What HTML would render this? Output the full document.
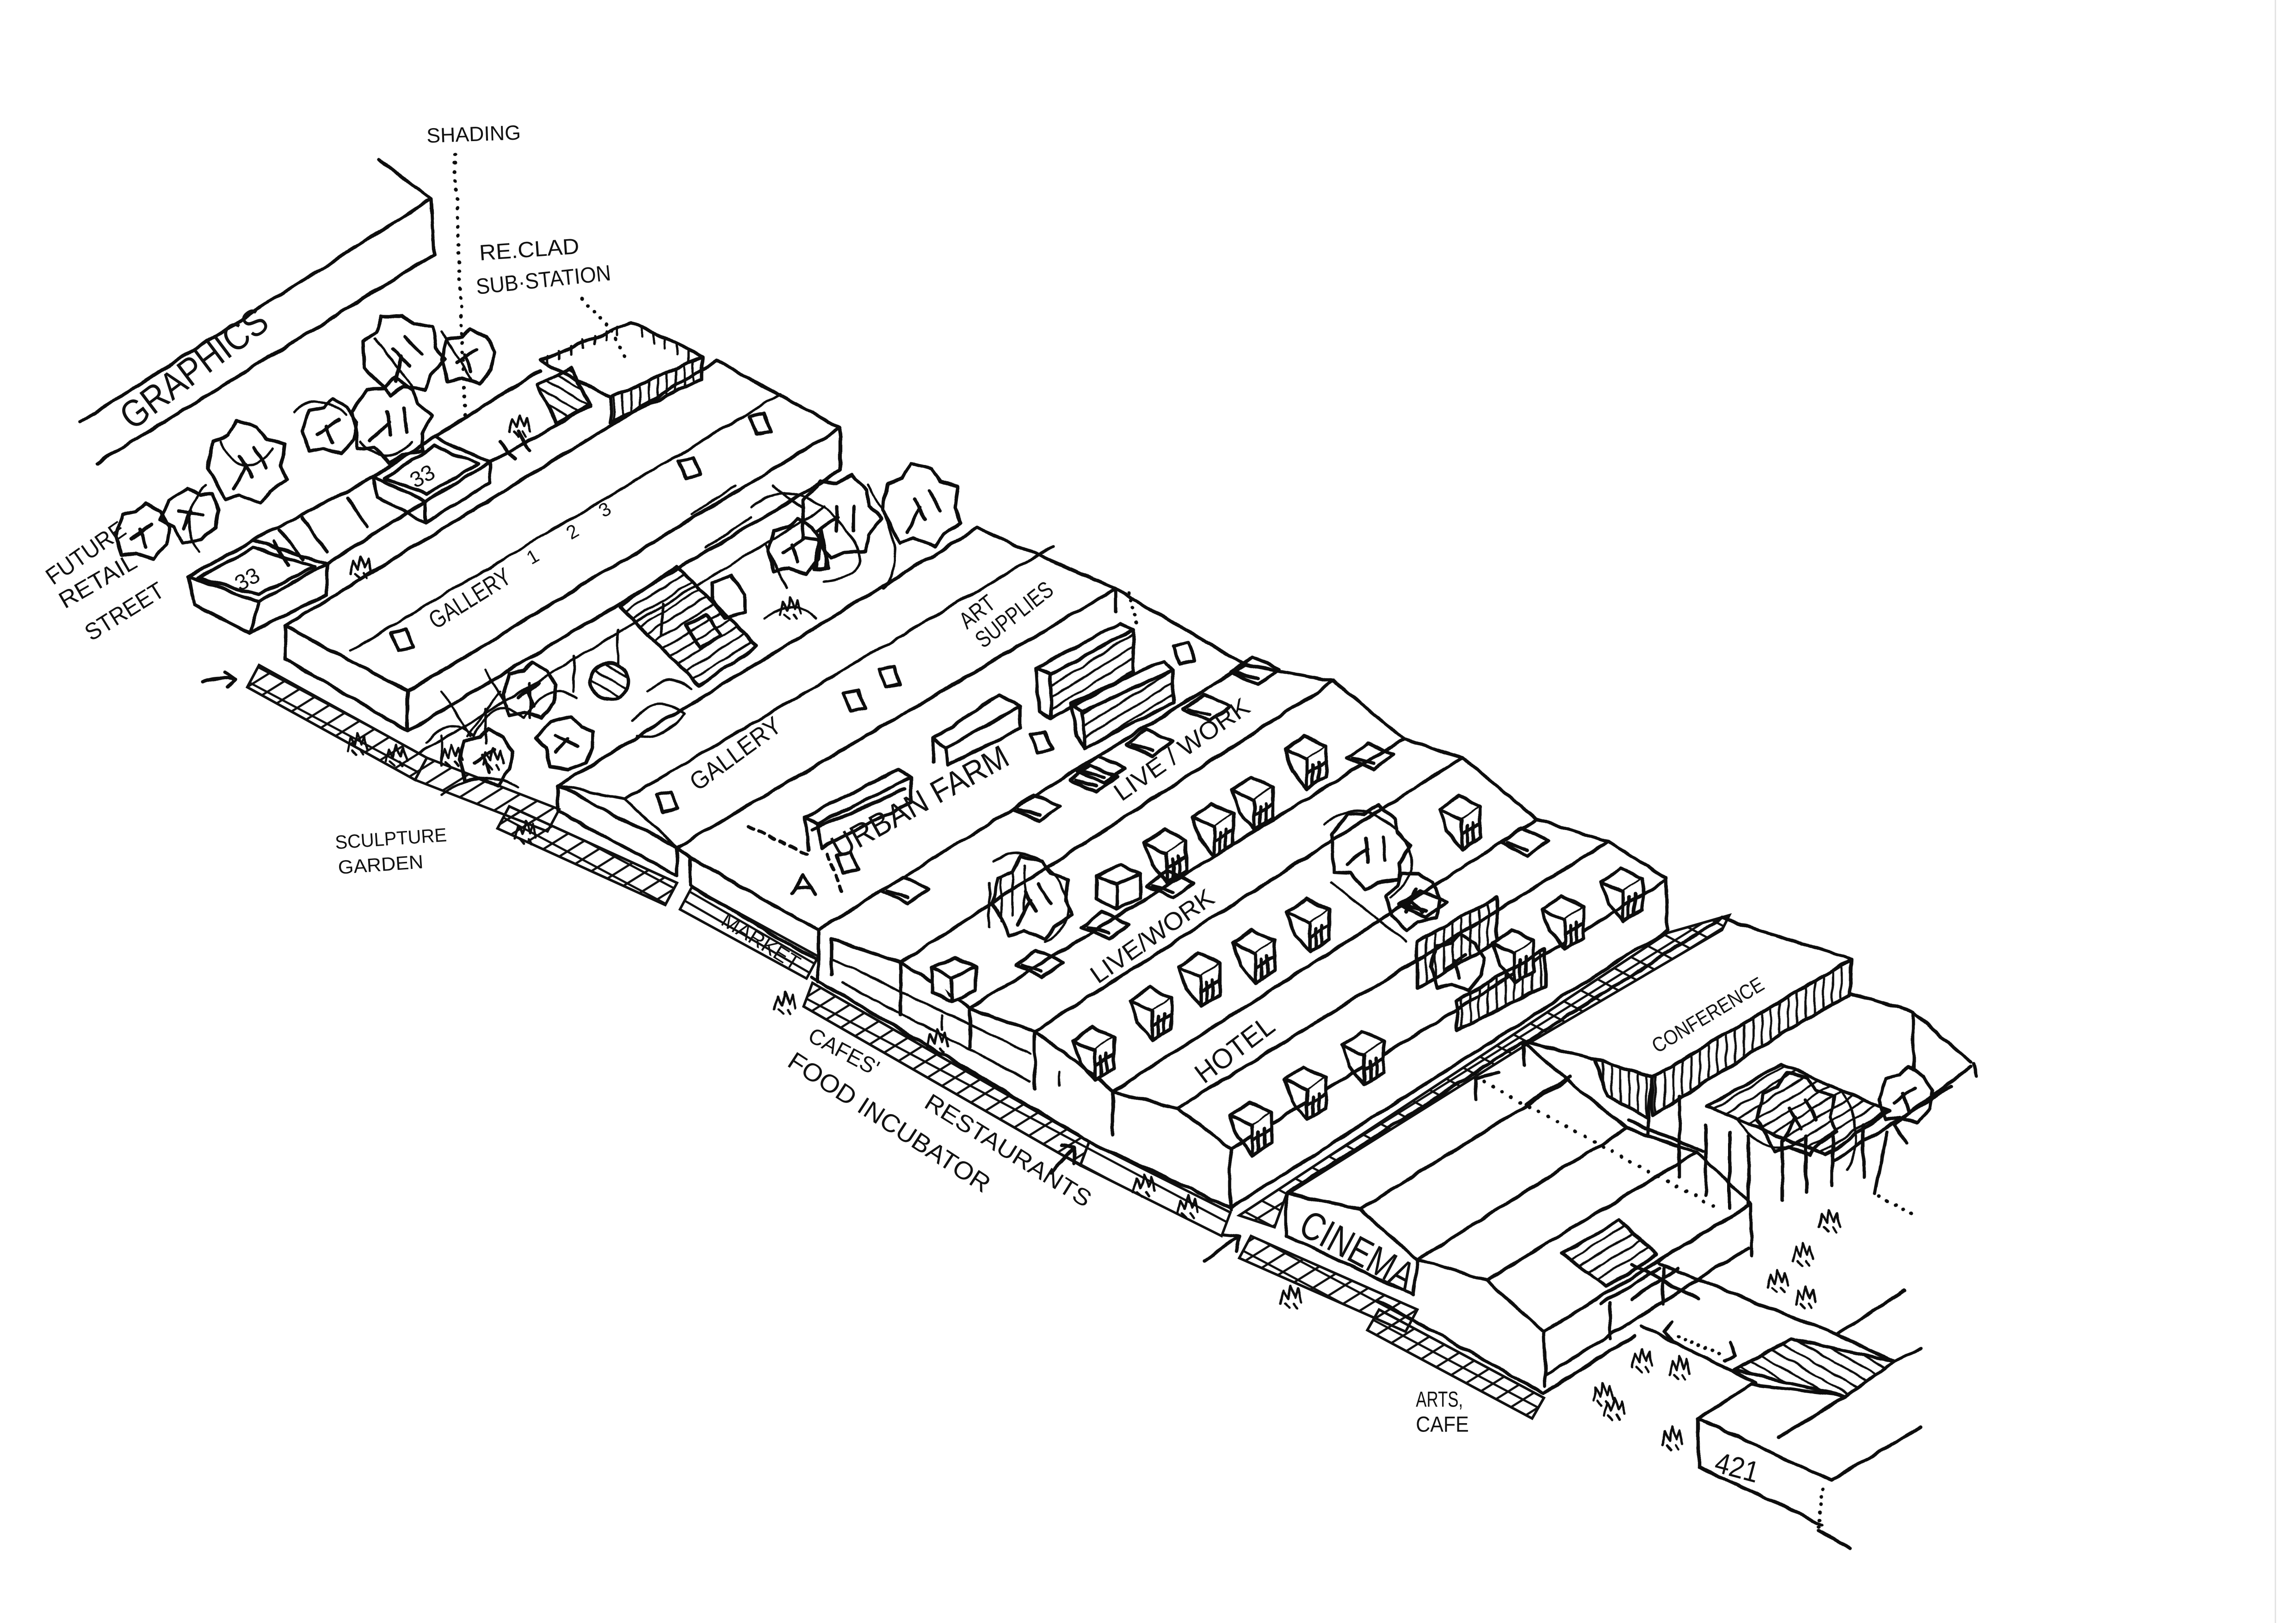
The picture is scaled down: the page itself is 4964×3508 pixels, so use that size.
<!DOCTYPE html>
<html><head><meta charset="utf-8"><style>
html,body{margin:0;padding:0;background:#fff;}
svg{display:block;}
text{font-family:"Liberation Sans Narrow","Liberation Sans",sans-serif;fill:#111;stroke:none;}
</style></head><body>
<svg width="4964" height="3508" viewBox="0 0 1560 1103" preserveAspectRatio="none" xmlns="http://www.w3.org/2000/svg">
<defs>
 <pattern id="g1" width="10" height="10" patternUnits="userSpaceOnUse" patternTransform="rotate(-32)"><path d="M0,5 H10" stroke="#111" stroke-width="1.5"/></pattern>
 <pattern id="g2" width="12" height="12" patternUnits="userSpaceOnUse" patternTransform="rotate(28)"><path d="M0,6 H12" stroke="#111" stroke-width="1.5"/></pattern>
 <pattern id="hv" width="6" height="6" patternUnits="userSpaceOnUse"><path d="M3,0 V6" stroke="#111" stroke-width="1.5"/></pattern>
 <pattern id="hd" width="7" height="7" patternUnits="userSpaceOnUse" patternTransform="rotate(-32)"><path d="M0,3.5 H7" stroke="#111" stroke-width="1.5"/></pattern>
 <pattern id="hd2" width="7" height="7" patternUnits="userSpaceOnUse" patternTransform="rotate(30)"><path d="M0,3.5 H7" stroke="#111" stroke-width="1.5"/></pattern>
 <filter id="wob" x="0" y="0" width="1560" height="1103" filterUnits="userSpaceOnUse">
  <feTurbulence type="fractalNoise" baseFrequency="0.07" numOctaves="2" seed="7"/>
  <feDisplacementMap in="SourceGraphic" scale="2.8" xChannelSelector="R" yChannelSelector="G"/>
 </filter>
 <g id="dm"><path d="M0,9 L13,0 L28,7 L15,16 Z" fill="#fff"/><path d="M15,16 L15,36 L28,28 L28,7" fill="#fff"/><path d="M0,9 L5,24 L15,36 M19,20 L19,33 M23,18 L23,31 M15,26 L28,18" fill="none"/></g>
 <g id="cb"><path d="M0,7 L16,0 L30,6 L14,13 Z M14,13 L14,30 L30,22 L30,6 M0,7 L0,23 L14,30" fill="#fff"/></g>
 <g id="sk"><path d="M0,10 L14,0 L32,8 L18,18 Z M4,10 L18,14" fill="none"/></g>
 <g id="rw"><path d="M0,2 L10,0 L15,12 L5,14 Z" fill="none"/></g>
 <g id="pp"><path d="M0,12 L2,3 L5,9 L7,0 L10,8 L12,2 L14,11 M3,12 L6,15 M9,12 L11,15" fill="none"/></g>
 <g id="ta"><path d="M-26,4 L-22,-14 L-12,-18 L-6,-28 L8,-24 L14,-16 L26,-12 L24,2 L28,12 L16,20 L10,28 L-4,22 L-14,26 L-20,14 Z M-4,-4 L4,10 M0,2 L-8,18 M6,-10 L14,4" fill="none"/></g>
 <g id="tb"><path d="M-18,2 L-14,-12 L-4,-14 L2,-20 L12,-14 L18,-4 L16,8 L8,18 L-4,14 L-14,16 Z M-2,-2 L2,10 M-8,4 L6,-6" fill="none"/></g>
</defs>
<rect x="0" y="0" width="1560" height="1103" fill="#fff"/>
<path d="M1546,0 L1546,1103" stroke="#e4e4e4" stroke-width="1"/>

<!-- ground grid bands -->
<g stroke="#111" stroke-width="1.7">
 <path d="M176,452 L290,515 L282,530 L168,467 Z" fill="url(#g1)"/>
 <path d="M176,452 L290,515 L282,530 L168,467 Z" fill="url(#g2)"/>
 <path d="M290,515 L380,550 L372,565 L282,530 Z" fill="url(#g1)"/>
 <path d="M346,548 L460,600 L452,615 L338,563 Z" fill="url(#g1)"/>
 <path d="M346,548 L460,600 L452,615 L338,563 Z" fill="url(#g2)"/>
 <path d="M470,603 L556,650 L548,665 L462,618 Z" fill="url(#hd2)"/>
 <path d="M552,668 L740,776 L734,792 L546,684 Z" fill="url(#g1)"/>
 <path d="M552,668 L740,776 L734,792 L546,684 Z" fill="url(#g2)"/>
 <path d="M740,776 L836,824 L830,840 L734,792 Z" fill="url(#g2)"/>
 <path d="M842,826 L1133,634 L1175,622 L1170,632 L1037,710 L874,812 L866,834 Z" fill="url(#g1)"/>
 <path d="M842,826 L1133,634 L1175,622 L1170,632 L1037,710 L874,812 L866,834 Z" fill="url(#g2)"/>
 <path d="M850,840 L963,890 L955,905 L842,855 Z" fill="url(#g1)"/>
 <path d="M850,840 L963,890 L955,905 L842,855 Z" fill="url(#g2)"/>
 <path d="M937,890 L1049,950 L1041,964 L929,904 Z" fill="url(#g1)"/>
 <path d="M937,890 L1049,950 L1041,964 L929,904 Z" fill="url(#g2)"/>
</g>

<g fill="none" stroke="#111" stroke-width="2.3" stroke-linecap="round" stroke-linejoin="round" filter="url(#wob)">
 <!-- GRAPHICS -->
 <path d="M257,108 L293,135 L54,287 M293,135 L295,173 L66,315"/>
 <!-- dotted leaders -->
 <path d="M309,105 L316,282" stroke-dasharray="0.1 6" stroke-width="2.5"/>
 <path d="M395,203 L417,226 L425,244" stroke-dasharray="0.1 6" stroke-width="2.5"/>
 <!-- substation -->
 <path d="M367,245 L429,219 L477,242"/>
 <path d="M372,242 L372,248 M380,238 L380,244 M388,235 L388,241 M396,231 L396,237 M404,228 L404,234 M412,225 L412,231 M420,222 L420,228 M436,222 L436,229 M444,226 L444,233 M452,230 L452,237 M460,234 L460,241 M468,238 L468,245" stroke-width="1.6"/>
 <path d="M415,270 L477,242 L477,258 L415,287 Z" fill="url(#hv)"/>
 <path d="M365,262 L388,250 L401,275 L378,288 Z" fill="url(#hd2)"/>
 <path d="M367,245 L415,270"/>
 <!-- retail 33 -->
 <path d="M128,392 L172,367 L222,383 L176,409 Z M134,393 L172,372 L214,385 L176,404 Z M128,392 L132,411 L170,430 L176,409 M170,430 L222,404 L222,383"/>
 <path d="M172,367 L254,324 M222,383 L289,341 M190,360 L206,380 M205,352 L222,375 M236,338 L250,358 M186,368 L196,384"/>
 <path d="M254,324 L295,297 L333,314 L289,341 Z M261,325 L295,303 L325,315 L290,336 Z M254,324 L256,338 L289,355 L289,341 M289,355 L333,328 L333,314"/>
 <path d="M295,297 L367,252 M333,314 L401,276 M340,300 L350,312 M352,294 L360,306"/>
 <!-- trees top-left -->
 <use href="#ta" x="167" y="314"/>
 <use href="#tb" x="97" y="362"/>
 <use href="#tb" x="224" y="291"/>
 <use href="#ta" x="265" y="285" transform="rotate(20 265 285)"/>
 <use href="#ta" x="272" y="240" transform="rotate(-15 272 240)"/>
 <use href="#tb" x="318" y="243"/>
 <use href="#tb" x="130" y="350" transform="rotate(40 130 350)"/>
 <path d="M150,300 Q165,330 185,305 M255,230 L280,262 M300,225 L320,258 M140,330 Q120,350 135,375 M200,280 Q215,265 235,282 M245,300 Q262,320 280,300" stroke-width="1.6"/>
 <!-- Gallery 1 -->
 <path d="M194,425 L487,245 L571,291 L277,470 Z"/>
 <path d="M238,442 L530,268" stroke-width="1.8"/>
 <path d="M194,425 L194,448 L277,497 L277,470 M277,497 L571,320 L571,291"/>
 <use href="#rw" x="266" y="428"/><use href="#rw" x="461" y="311"/><use href="#rw" x="509" y="281"/>
 <path d="M285,512 L560,345 M300,500 L300,520 M330,482 L330,505 M360,464 L360,488 M390,446 L390,470 M420,428 L420,452 M450,410 L450,432" stroke-width="1.7"/>
 <path d="M290,505 Q305,485 322,500 Q338,470 356,488 Q372,462 392,474 M300,540 Q330,520 352,535 M440,470 Q455,455 470,468 M520,420 Q540,405 555,420 M300,470 L320,500 M318,500 L340,470 M330,455 L345,480 M470,350 L500,330 M480,372 L510,352 M525,330 L545,345" stroke-width="1.6"/>
 <!-- courtyard -->
 <path d="M421,412 L460,385 L514,439 L475,466 Z" fill="url(#hd)"/>
 <path d="M484,396 L497,391 L506,404 L506,416 L492,420 L484,408 Z M466,425 L480,418 L490,432 L476,440 Z"/>
 <ellipse cx="414" cy="463" rx="13" ry="12" fill="url(#hd2)"/>
 <path d="M553,387 L558,360 L563,386 Z" fill="url(#hv)"/>
 <use href="#ta" x="625" y="343"/>
 <use href="#ta" x="570" y="350" transform="rotate(30 570 350)"/>
 <use href="#tb" x="540" y="372"/>
 <use href="#tb" x="360" y="470"/>
 <use href="#tb" x="385" y="505" transform="rotate(60 385 505)"/>
 <use href="#tb" x="330" y="515"/>
 <path d="M510,345 Q540,320 575,360 Q600,390 560,395 M520,370 L535,400 M590,330 Q620,380 600,400 M430,490 Q445,470 465,485 Q450,505 432,500" stroke-width="1.6"/>
 <!-- Gallery 2 -->
 <path d="M379,534 L664,359 L758,400 L460,576 Z"/>
 <path d="M379,534 L424,543 L460,576 M424,543 L716,371" stroke-width="1.9"/>
 <path d="M379,534 L379,551 L460,595 L460,576 M758,400 L758,416"/>
 <use href="#rw" x="446" y="538"/><use href="#rw" x="573" y="469"/><use href="#rw" x="597" y="453"/>
 <!-- Urban farm -->
 <path d="M460,576 L469,583 L556,632 L846,452 L758,400"/>
 <path d="M469,583 L469,602 L556,653 M556,632 L556,667"/>
 <path d="M538,607 L546,595 L554,607 M541,603 L551,603"/>
 <path d="M508,562 L550,581" stroke-dasharray="4 4"/>
 <path d="M562,580 L573,608" stroke-dasharray="4 4"/>
 <path d="M767,403 L773,427" stroke-dasharray="0.1 5"/>
 <use href="#rw" x="568" y="579"/><use href="#rw" x="700" y="497"/><use href="#rw" x="797" y="437"/>
 <path d="M547,555 L610,523 L619,528 L556,560 Z M547,555 L549,577 M556,560 L558,576 M619,528 L619,545 M558,576 L619,545 M552,564 Q580,552 615,536"/>
 <path d="M634,502 L679,472 L693,480 L643,508 Z M634,502 L634,518 M643,508 L644,520 M693,480 L693,495 M644,520 L693,495"/>
 <path d="M704,454 L761,424 L770,428 L714,458 Z M704,454 L706,483 L714,488 L714,458"/>
 <path d="M714,458 L770,428 L770,458 L714,488 Z" fill="url(#hd)"/>
 <path d="M728,478 L791,449 L797,455 L735,484 Z M728,478 L731,500 L737,508 L735,484"/>
 <path d="M735,484 L797,455 L797,478 L737,508 Z" fill="url(#hd)"/>
 <!-- Live/work + hotel block -->
 <path d="M565,638 L612,654 L659,685 L703,701 L745,732 L756,742 L800,753 L836,781"/>
 <path d="M612,654 L906,463 M659,685 L954,502 M703,701 L993,515 M756,742 L1044,557 M800,753 L1093,572 M836,781 L1132,598"/>
 <path d="M846,452 L906,463 L954,502 L993,515 L1023,539 L1044,557 L1093,572 L1132,597 L1133,632"/>
 <path d="M565,638 L565,662 M612,654 L612,690 M659,685 L659,712 M703,701 L703,740 M756,742 L756,771 M836,781 L836,822 M552,664 L737,774 L836,821 L1133,632"/>
 <path d="M566,652 L700,716 M572,668 L700,735 M640,690 L640,700 M720,728 L720,738" stroke-width="1.6"/>
 <use href="#ta" x="700" y="610"/>
 <use href="#ta" x="930" y="575" transform="rotate(25 930 575)"/>
 <use href="#tb" x="990" y="655"/>
 <use href="#tb" x="960" y="612" transform="rotate(-30 960 612)"/>
 <path d="M963,640 L1017,610 L1017,640 L963,672 Z" fill="url(#hv)"/>
 <path d="M990,680 L1050,645 L1050,670 L990,700 Z" fill="url(#hv)"/>
 <path d="M672,600 L672,630 M680,596 L680,626 M688,592 L688,622 M696,588 L696,618" stroke-width="1.6"/>
 <path d="M900,560 Q925,540 950,565 Q970,590 945,610 M905,600 Q930,620 955,640 M675,585 Q700,570 720,600 Q735,625 710,640" stroke-width="1.6"/>
 <use href="#dm" x="873" y="500"/><use href="#dm" x="837" y="528"/><use href="#dm" x="810" y="546"/>
 <use href="#dm" x="778" y="564"/><use href="#dm" x="978" y="541"/><use href="#dm" x="1088" y="590"/>
 <use href="#dm" x="1048" y="609"/><use href="#dm" x="1014" y="632"/><use href="#dm" x="875" y="611"/>
 <use href="#dm" x="838" y="632"/><use href="#dm" x="801" y="648"/><use href="#dm" x="768" y="671"/>
 <use href="#dm" x="729" y="698"/><use href="#dm" x="912" y="701"/><use href="#dm" x="873" y="725"/>
 <use href="#dm" x="836" y="749"/>
 <use href="#cb" x="745" y="588"/><use href="#cb" x="633" y="651"/>
 <use href="#sk" x="915" y="505"/><use href="#sk" x="765" y="496"/><use href="#sk" x="732" y="514"/>
 <use href="#sk" x="804" y="472"/><use href="#sk" x="837" y="447"/><use href="#sk" x="688" y="540"/>
 <use href="#sk" x="599" y="596"/><use href="#sk" x="727" y="520"/><use href="#sk" x="690" y="646"/>
 <use href="#sk" x="735" y="620"/><use href="#sk" x="779" y="592"/><use href="#sk" x="1020" y="563"/>
 <use href="#sk" x="951" y="605"/>
 <!-- Cinema / arts -->
 <path d="M874,811 L1035,708 M874,811 L924,822 L963,856 L1010,870 L1049,905 M924,822 L1065,734 M963,856 L1105,767 M1010,870 L1153,783 M1049,905 L1190,818 M1035,708 L1065,734 L1105,767 L1153,783 L1190,818 L1190,853"/>
 <path d="M874,811 L874,840 L960,880 L963,856 M1049,905 L1050,942 M937,884 L1049,947 L1110,908 M1050,935 L1188,848 M1035,708 L1036,724"/>
 <path d="M1061,852 L1100,829 L1126,853 L1092,874 Z" fill="url(#hd)"/>
 <path d="M1008,735 L1170,823" stroke-dasharray="0.1 7" stroke-width="2.5"/>
 <path d="M1003,747 L1002,733 L1018,729"/>
 <!-- Conference -->
 <path d="M1037,708 L1170,624 L1258,652 L1123,732 L1084,720 Z"/>
 <path d="M1084,720 L1123,732 L1120,760 L1092,745 Z" fill="url(#hv)"/>
 <path d="M1123,732 L1258,652 L1257,676 L1214,700 L1123,758 Z" fill="url(#hv)"/>
 <path d="M1120,756 L1120,771 M1141,745 L1141,768 M1106,762 L1157,782 M1037,750 L1067,732"/>
 <path d="M1258,675 L1300,688 L1339,722 M1339,725 L1287,764 L1295,777 M1300,688 L1300,727 M1245,789 L1326,738 M1341,723 L1343,731"/>
 <path d="M1160,752 L1210,723 L1284,755 L1240,785 Z" fill="url(#hd)"/>
 <path d="M1157,717 L1284,717" stroke="none"/>
 <path d="M1141,760 L1141,800 M1159,765 L1159,812 M1175,770 L1175,821 M1188,772 L1188,818 M1211,775 L1211,816 M1227,772 L1227,810 M1245,770 L1245,806 M1266,765 L1266,800 M1282,769 L1274,811"/>
 <use href="#ta" x="1220" y="757"/>
 <use href="#tb" x="1295" y="745"/>
 <path d="M1180,760 Q1200,790 1225,775 M1250,740 Q1270,770 1255,795" stroke-width="1.6"/>
 <path d="M1277,813 L1300,825" stroke-dasharray="0.1 6" stroke-width="2.5"/>
 <!-- frame + 421 -->
 <path d="M1088,886 L1127,862 M1127,859 L1248,907 L1294,877 M1115,901 L1193,940 M1094,886 L1094,910 M1130,862 L1130,886 M1109,859 L1154,883 M1109,883 L1140,862 M1287,925 L1305,917 M1248,907 L1287,925"/>
 <path d="M1136,898 L1131,905 L1136,911 M1176,912 L1179,921 L1172,925"/>
 <path d="M1140,908 L1170,921" stroke-dasharray="0.1 5" stroke-width="2.4"/>
 <path d="M1178,931 L1217,910 L1287,925 L1254,949 Z" fill="url(#hd2)"/>
 <path d="M1154,964 L1190,941 L1254,949 M1154,964 L1244,1006 L1305,970 M1154,964 L1154,997 L1238,1036 M1208,977 L1254,949"/>
 <path d="M1238,1012 L1236,1040" stroke-dasharray="0.1 5" stroke-width="2.4"/>
 <path d="M1236,1040 L1257,1052"/>
 <!-- arrows -->
 <path d="M138,463 Q148,459 160,462 M153,457 L160,462 L155,467"/>
 <path d="M714,797 L730,780 M721,779 L730,780 L730,790"/>
 <path d="M818,857 L842,840 M832,839 L842,840 L840,850"/>
 <!-- people -->
 <g stroke-width="1.6">
  <use href="#pp" x="236" y="498"/><use href="#pp" x="262" y="506"/><use href="#pp" x="300" y="506"/><use href="#pp" x="328" y="508"/>
  <use href="#pp" x="350" y="558"/><use href="#pp" x="526" y="674"/><use href="#pp" x="630" y="700"/>
  <use href="#pp" x="770" y="798"/><use href="#pp" x="800" y="813"/><use href="#pp" x="870" y="874"/>
  <use href="#pp" x="1082" y="940"/><use href="#pp" x="1109" y="917"/><use href="#pp" x="1134" y="922"/>
  <use href="#pp" x="1129" y="970"/><use href="#pp" x="1236" y="822"/><use href="#pp" x="1218" y="845"/>
  <use href="#pp" x="1201" y="863"/><use href="#pp" x="1220" y="874"/><use href="#pp" x="346" y="282"/>
  <use href="#pp" x="238" y="378"/><use href="#pp" x="530" y="406"/><use href="#pp" x="1090" y="950"/>
 </g>
</g>

<!-- labels -->
<text transform="translate(290,97) rotate(-2)" font-size="14" textLength="64" lengthAdjust="spacingAndGlyphs">SHADING</text>
<text transform="translate(326,177) rotate(-4)" font-size="15" textLength="68" lengthAdjust="spacingAndGlyphs">RE.CLAD</text>
<text transform="translate(324,200) rotate(-6)" font-size="15" textLength="92" lengthAdjust="spacingAndGlyphs">SUB·STATION</text>
<text transform="translate(90,293) rotate(-37)" font-size="26" textLength="118" lengthAdjust="spacingAndGlyphs">GRAPHICS</text>
<text transform="translate(36,398) rotate(-35)" font-size="16" textLength="62" lengthAdjust="spacingAndGlyphs">FUTURE</text>
<text transform="translate(44,414) rotate(-30)" font-size="16" textLength="58" lengthAdjust="spacingAndGlyphs">RETAIL</text>
<text transform="translate(62,436) rotate(-32)" font-size="16" textLength="60" lengthAdjust="spacingAndGlyphs">STREET</text>
<text transform="translate(163,402) rotate(-28)" font-size="15">33</text>
<text transform="translate(282,332) rotate(-28)" font-size="15">33</text>
<text transform="translate(296,428) rotate(-32)" font-size="17" textLength="62" lengthAdjust="spacingAndGlyphs">GALLERY</text>
<text transform="translate(361,384) rotate(-30)" font-size="13">1</text>
<text transform="translate(388,367) rotate(-30)" font-size="13">2</text>
<text transform="translate(410,352) rotate(-30)" font-size="13">3</text>
<text transform="translate(474,538) rotate(-36)" font-size="17" textLength="72" lengthAdjust="spacingAndGlyphs">GALLERY</text>
<text transform="translate(657,428) rotate(-38)" font-size="16" textLength="26" lengthAdjust="spacingAndGlyphs">ART</text>
<text transform="translate(668,441) rotate(-38)" font-size="16" textLength="62" lengthAdjust="spacingAndGlyphs">SUPPLIES</text>
<text transform="translate(570,584) rotate(-29)" font-size="22" textLength="134" lengthAdjust="spacingAndGlyphs">URBAN FARM</text>
<text transform="translate(762,545) rotate(-35)" font-size="17" textLength="108" lengthAdjust="spacingAndGlyphs">LIVE / WORK</text>
<text transform="translate(746,669) rotate(-35)" font-size="17" textLength="98" lengthAdjust="spacingAndGlyphs">LIVE/WORK</text>
<text transform="translate(818,737) rotate(-37)" font-size="19" textLength="62" lengthAdjust="spacingAndGlyphs">HOTEL</text>
<text transform="translate(1126,716) rotate(-31)" font-size="14" textLength="86" lengthAdjust="spacingAndGlyphs">CONFERENCE</text>
<text transform="translate(881,838) rotate(28)" font-size="27" textLength="84" lengthAdjust="spacingAndGlyphs">CINEMA</text>
<text transform="translate(962,956)" font-size="15" textLength="32" lengthAdjust="spacingAndGlyphs">ARTS,</text>
<text transform="translate(962,973)" font-size="15" textLength="36" lengthAdjust="spacingAndGlyphs">CAFE</text>
<text transform="translate(1164,1000) rotate(15)" font-size="20" textLength="30" lengthAdjust="spacingAndGlyphs">421</text>
<text transform="translate(228,577) rotate(-4)" font-size="13" textLength="76" lengthAdjust="spacingAndGlyphs">SCULPTURE</text>
<text transform="translate(230,594) rotate(-4)" font-size="13" textLength="58" lengthAdjust="spacingAndGlyphs">GARDEN</text>
<text transform="translate(489,628) rotate(32)" font-size="14" textLength="60" lengthAdjust="spacingAndGlyphs">MARKET</text>
<text transform="translate(548,707) rotate(28)" font-size="15" textLength="52" lengthAdjust="spacingAndGlyphs">CAFES'</text>
<text transform="translate(534,724) rotate(33)" font-size="17" textLength="160" lengthAdjust="spacingAndGlyphs">FOOD INCUBATOR</text>
<text transform="translate(627,752) rotate(32)" font-size="16" textLength="130" lengthAdjust="spacingAndGlyphs">RESTAURANTS</text>
</svg>
</body></html>
